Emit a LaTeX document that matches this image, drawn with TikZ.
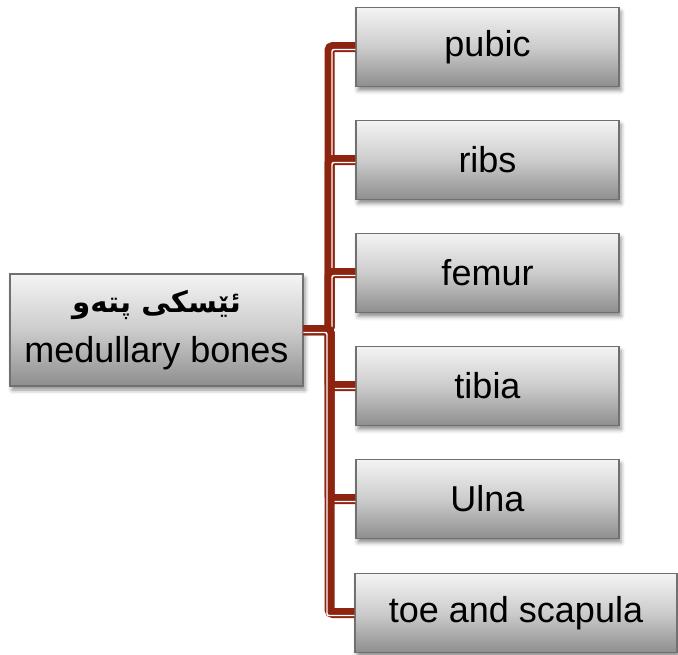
\documentclass[tikz,border=0pt]{standalone}
\usepackage{fontspec}
\setmainfont{Liberation Sans}
\newfontfamily\kufont[Script=Arabic]{DejaVu Sans}
\TeXXeTstate=1
\usetikzlibrary{calc,shadows.blur}
\definecolor{linkred}{RGB}{140,36,16}
\definecolor{boxedge}{RGB}{112,112,112}
\definecolor{boxtop}{RGB}{244,244,244}
\definecolor{boxmid}{RGB}{204,204,204}
\definecolor{boxbot}{RGB}{142,142,142}
\tikzset{
  bonebox/.style={draw=boxedge, line width=1pt, top color=boxtop, bottom color=boxbot, middle color=boxmid,
    minimum width=197.25pt, minimum height=59.25pt, inner sep=0pt,
    font=\fontsize{27}{32}\selectfont,
    blur shadow={shadow xshift=1.5pt, shadow yshift=-3pt, shadow opacity=45, shadow blur radius=3pt}},
  redlink/.style={draw=linkred, line width=7.5pt, rounded corners=2.5pt},
  whitelink/.style={draw=white, line width=1.1pt, rounded corners=1.5pt},
}
\begin{document}
\begin{tikzpicture}[x=0.75pt, y=-0.75pt]
\useasboundingbox (0,0) rectangle (678,654);

% root box
\node[bonebox, minimum width=219.75pt, minimum height=84pt, align=center,
      font=\fontsize{27}{29}\selectfont] (root) at (156.5,330)
  {{\kufont\bfseries\fontsize{22}{26}\selectfont\beginR ئێسکی پتەو\endR}\\[8pt]medullary bones};

% leaf boxes
\node[bonebox] (t1) at (487.5,47)  {pubic};
\node[bonebox] (t2) at (487.5,160) {ribs};
\node[bonebox] (t3) at (487.5,273) {femur};
\node[bonebox] (t4) at (487.5,386) {tibia};
\node[bonebox] (t5) at (487.5,499) {Ulna};
\node[bonebox, minimum width=241.5pt] (t6) at (516,613) {toe and scapula};

% trunk of the bracket
\coordinate (trunk) at (329.5,330);

% connectors: thick red line with a thin white line on its right-hand side
\foreach \t in {t1,t2,t3} {
  \draw[redlink] ($(root.east)+(0,0)$) -- (trunk) |- (\t.west);
  \draw[whitelink] ($(root.east)+(0,2.5)$) -- ($(trunk)+(2.5,2.5)$) |- ($(\t.west)+(0,2.5)$);
}
\foreach \t in {t4,t5,t6} {
  \draw[redlink] ($(root.east)+(0,0)$) -- (trunk) |- (\t.west);
  \draw[whitelink] ($(root.east)+(0,2.5)$) -- ($(trunk)+(-2.5,2.5)$) |- ($(\t.west)+(0,2.5)$);
}
\end{tikzpicture}
\end{document}
